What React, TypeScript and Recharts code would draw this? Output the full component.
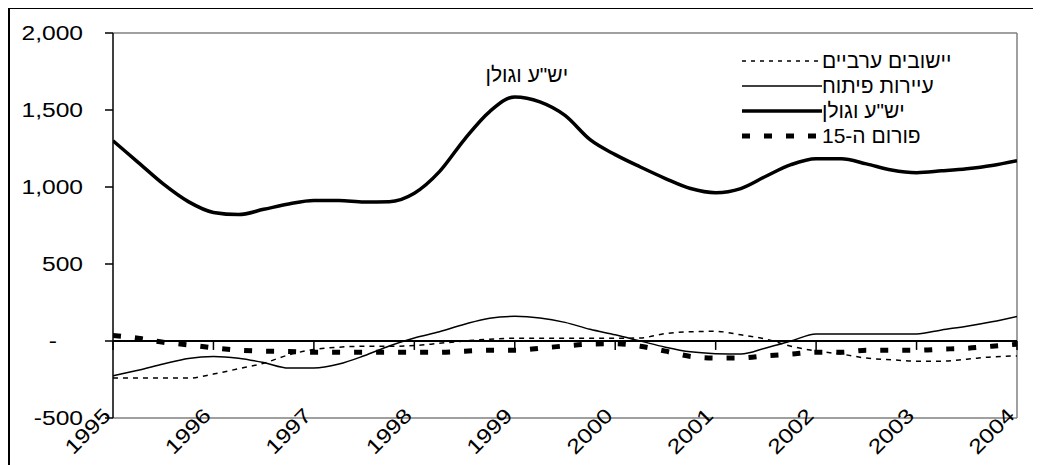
import React from "react";
import { LineChart, Line, XAxis, YAxis, ReferenceLine, Legend } from "recharts";

const YEARS = [1995, 1996, 1997, 1998, 1999, 2000, 2001, 2002, 2003, 2004];
const Y_TICKS = [-500, 0, 500, 1000, 1500, 2000];

const PERIODS = [
  1995, 1995.25, 1995.5, 1995.75, 1996, 1996.25, 1996.5, 1996.75, 1997, 1997.25, 1997.5, 1997.75,
  1998, 1998.25, 1998.5, 1998.75, 1999, 1999.25, 1999.5, 1999.75, 2000, 2000.25, 2000.5, 2000.75,
  2001, 2001.25, 2001.5, 2001.75, 2002, 2002.25, 2002.5, 2002.75, 2003, 2003.25, 2003.5, 2003.75, 2004,
];

const ARAB = [
  -241, -241, -241, -241, -215, -180, -144, -90, -55, -40, -34, -34,
  -30, -15, 0, 12, 18, 18, 18, 18, 18, 20, 48, 60,
  63, 40, 12, -34, -65, -85, -111, -122, -131, -131, -118, -103, -97,
];
const DEV_TOWNS = [
  -226, -190, -150, -113, -100, -112, -140, -176, -176, -150, -96, -32,
  20, 60, 109, 148, 160, 150, 121, 76, 40, 0, -40, -70,
  -82, -85, -45, 0, 46, 46, 46, 46, 46, 72, 96, 125, 160,
];
const YESHA = [
  1300, 1160, 1020, 905, 835, 821, 855, 890, 912, 912, 903, 905,
  960, 1100, 1310, 1490, 1585, 1553, 1465, 1307, 1210, 1130, 1055, 990,
  963, 990, 1070, 1145, 1183, 1183, 1150, 1110, 1093, 1105, 1119, 1140, 1171,
];
const FORUM15 = [
  35, 18, -8, -25, -45, -60, -66, -68, -73, -73, -73, -73,
  -73, -73, -66, -60, -60, -47, -32, -20, -18, -34, -66, -100,
  -111, -110, -96, -85, -73, -73, -60, -60, -60, -53, -47, -34, -21,
];

const SERIES_NAMES = {
  arab: "יישובים ערביים",
  dev: "עיירות פיתוח",
  yesha: 'יש"ע וגולן',
  forum: "פורום ה-15",
};
const PEAK_LABEL = 'יש"ע וגולן';

const data = PERIODS.map((t, i) => ({
  t,
  arab: ARAB[i],
  dev: DEV_TOWNS[i],
  yesha: YESHA[i],
  forum: FORUM15[i],
}));

const FONT = "'Liberation Sans', Arial, sans-serif";

const fmt = (v: number) => (v === 0 ? "-" : v.toLocaleString("en-US"));

const YTick = (props: any) => {
  const { x, y, payload } = props;
  const v = payload.value;
  const tx = v === 0 ? x - 26 : x;
  return (
    <text
      transform={`translate(${tx}, ${y}) scale(1.2, 1)`}
      x={0}
      y={0}
      textAnchor="end"
      dominantBaseline="central"
      fontFamily={FONT}
      fontSize={20.5}
      fill="#000"
    >
      {fmt(v)}
    </text>
  );
};

const XTick = (props: any) => {
  const { x, y, payload } = props;
  const cx = x - 6;
  const cy = y - 14;
  return (
    <text
      transform={`translate(${cx}, ${cy}) rotate(-45) scale(1.2, 1)`}
      x={0}
      y={0}
      textAnchor="end"
      dominantBaseline="central"
      fontFamily={FONT}
      fontSize={20.5}
      fill="#000"
    >
      {payload.value}
    </text>
  );
};

const PeakLabel = (props: any) => {
  const { x, y, index } = props;
  if (index !== 16) return null;
  return (
    <text
      x={x + 12}
      y={y - 15}
      textAnchor="middle"
      fontFamily={FONT}
      fontSize={21}
      fill="#000"
    >
      {PEAK_LABEL}
    </text>
  );
};

const LEGEND_ROWS = [
  { key: "arab", width: 1.5, dash: "4 5" },
  { key: "dev", width: 1.5, dash: undefined },
  { key: "yesha", width: 3.5, dash: undefined },
  { key: "forum", width: 5, dash: "8 14" },
];

const renderLegend = () => (
  <div style={{ fontFamily: FONT, fontSize: 21 }}>
    {LEGEND_ROWS.map((r) => (
      <div key={r.key} style={{ display: "flex", alignItems: "center", height: 25 }}>
        <svg width={80} height={10} style={{ display: "block" }}>
          <line x1={0} y1={5} x2={80} y2={5} stroke="#000" strokeWidth={r.width} strokeDasharray={r.dash} />
        </svg>
        <span style={{ direction: "rtl", whiteSpace: "nowrap", lineHeight: "25px" }}>
          {(SERIES_NAMES as any)[r.key]}
        </span>
      </div>
    ))}
  </div>
);

export default function App() {
  return (
    <div
      style={{
        position: "relative",
        width: 1023,
        height: 470,
        border: "2px solid #000",
        marginTop: -1,
        background: "#fff",
      }}
    >
      <LineChart
        width={1023}
        height={455}
        data={data}
        margin={{ top: 24, right: 16, left: 0, bottom: 0 }}
      >
        <XAxis
          dataKey="t"
          type="number"
          domain={[1995, 2004]}
          ticks={YEARS}
          interval={0}
          allowDataOverflow
          height={46}
          axisLine={{ stroke: "#808080", strokeWidth: 1.5 }}
          tickLine={false}
          tick={<XTick />}
        />
        <YAxis
          type="number"
          domain={[-500, 2000]}
          ticks={Y_TICKS}
          interval={0}
          width={103}
          axisLine={{ stroke: "#000", strokeWidth: 1.5 }}
          tickLine={{ stroke: "#000", strokeWidth: 1.5 }}
          tickSize={8}
          tickMargin={22}
          tick={<YTick />}
        />
        <ReferenceLine y={2000} stroke="#808080" strokeWidth={1.5} />
        <ReferenceLine x={2004} stroke="#808080" strokeWidth={1.5} />
        <ReferenceLine y={0} stroke="#000" strokeWidth={2} />
        {YEARS.map((yr) => (
          <ReferenceLine
            key={yr}
            segment={[
              { x: yr, y: 0 },
              { x: yr, y: -58 },
            ]}
            stroke="#000"
            strokeWidth={1.5}
          />
        ))}
        <Line
          dataKey="arab"
          name={SERIES_NAMES.arab}
          type="monotone"
          stroke="#000"
          strokeWidth={1.5}
          strokeDasharray="5 5"
          dot={false}
          isAnimationActive={false}
        />
        <Line
          dataKey="dev"
          name={SERIES_NAMES.dev}
          type="monotone"
          stroke="#000"
          strokeWidth={1.5}
          dot={false}
          isAnimationActive={false}
        />
        <Line
          dataKey="yesha"
          name={SERIES_NAMES.yesha}
          type="monotone"
          stroke="#000"
          strokeWidth={3.5}
          dot={false}
          label={<PeakLabel />}
          isAnimationActive={false}
        />
        <Line
          dataKey="forum"
          name={SERIES_NAMES.forum}
          type="monotone"
          stroke="#000"
          strokeWidth={5}
          strokeDasharray="8 14"
          dot={false}
          isAnimationActive={false}
        />
        <Legend
          layout="vertical"
          align="center"
          verticalAlign="middle"
          content={renderLegend}
          wrapperStyle={{ position: "absolute", left: 732, top: 39, width: 260 }}
        />
      </LineChart>
    </div>
  );
}
